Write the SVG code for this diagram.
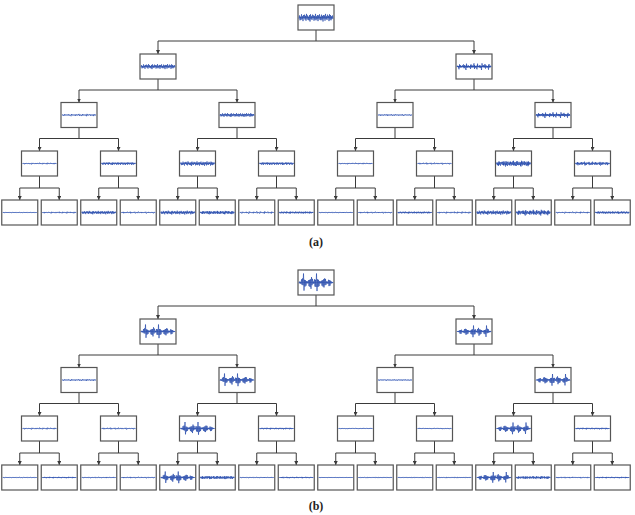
<svg xmlns="http://www.w3.org/2000/svg" xmlns:xlink="http://www.w3.org/1999/xlink" width="635" height="515" viewBox="0 0 635 515">
<style>
.bx{fill:#fff;stroke:#555;stroke-width:1.2}
.cn{fill:none;stroke:#3a3a3a;stroke-width:1}
.br{fill:none;stroke:#3a3a3a;stroke-width:1;marker-start:url(#ah);marker-end:url(#ah)}
.w{fill:none;stroke:#1f44a8;stroke-width:0.65;stroke-linejoin:bevel}
.base{fill:none;stroke:#7f9bd8;stroke-width:0.6}
.lbl{font-family:"Liberation Serif","DejaVu Serif",serif;font-weight:bold;font-size:12px;fill:#222;text-anchor:middle}
</style>
<defs>
<marker id="ah" markerUnits="userSpaceOnUse" viewBox="0 0 6 6" refX="6" refY="3" markerWidth="4" markerHeight="4" orient="auto-start-reverse"><path d="M0 0L6 3L0 6z" fill="#3a3a3a"/></marker>
<g id="nA"><path class="base" vector-effect="non-scaling-stroke" d="M0 0H34"/><path class="w" vector-effect="non-scaling-stroke" d="M0 .3L.5 -.5 1 .7 1.5 -.2 2 .6 2.5 -.8 3 .4 3.5 -.3 4 .9 4.5 -.6 5 .2 5.5 -.7 6 .5 6.5 -.4 7 .8 7.5 -.9 8 .3 8.5 -.5 9 .6 9.5 -.2 10 .7 10.5 -.6 11 1 11.5 -.8 12 .4 12.5 -.3 13 .6 13.5 -.7 14 .2 14.5 -.5 15 .8 15.5 -.4 16 .5 16.5 -.9 17 .7 17.5 -.3 18 .4 18.5 -.6 19 .9 19.5 -.5 20 .3 20.5 -.8 21 .6 21.5 -.2 22 .7 22.5 -.7 23 .5 23.5 -.4 24 1 24.5 -.6 25 .3 25.5 -.5 26 .8 26.5 -.9 27 .4 27.5 -.3 28 .6 28.5 -.7 29 .2 29.5 -.4 30 .9 30.5 -.8 31 .5 31.5 -.6 32 .7 32.5 -.3 33 .4 33.5 -.5 34 .3"/></g>
<g id="nB"><path class="base" vector-effect="non-scaling-stroke" d="M0 0H34"/><path class="w" vector-effect="non-scaling-stroke" d="M0 .1L1 -.15 2 .8 2.5 -.6 3 .1 4 -.15 5 .15 6 -.1 6.5 -.6 7 .5 7.5 -.1 8 .15 9 1 9.5 -.8 10 .1 11 -.15 12 .15 13 -.1 13.5 .7 14 -.6 14.5 .1 15 -.15 16 .15 17 -.9 17.5 .7 18 -.1 19 .15 20 .8 20.5 -.8 21 .1 22 -.15 23 .15 24 -.1 24.5 1 25 -.9 25.5 .1 26 -.15 27 .15 28 -.7 28.5 .6 29 -.1 30 .15 31 -.1 31.5 .9 32 -.7 32.5 .1 33 -.15 34 .1"/></g>
<g id="bu"><path class="base" vector-effect="non-scaling-stroke" d="M0 0H34"/><path class="w" vector-effect="non-scaling-stroke" d="M0 .08L.5 -.1 1 .12 1.5 -.08 2 .15 2.5 -.35 3 .25 3.5 -.45 4 .3 4.5 -1 5 .9 5.5 -.3 6 .45 6.5 -.25 7 .35 7.5 -.15 8 .1 8.5 -.12 9 .1 9.5 -.25 10 .4 10.5 -.3 11 .5 11.5 -.35 12 .7 12.5 -.6 13 .3 13.5 -.4 14 .15 14.5 -.1 15 .12 15.5 -.35 16 .45 16.5 -.3 17 .5 17.5 -1 18 .95 18.5 -.35 19 .5 19.5 -.3 20 .4 20.5 -.15 21 .1 21.5 -.12 22 .1 22.5 -.2 23 .35 23.5 -.25 24 .45 24.5 -.35 25 .55 25.5 -.45 26 .3 26.5 -.4 27 .25 27.5 -.12 28 .1 28.5 -.1 29 .15 29.5 -.3 30 .4 30.5 -.25 31 .35 31.5 -.2 32 .12 32.5 -.1 33 .08 33.5 -.06 34 .05"/></g>
</defs>

<g id="connectors">
<!-- tree a -->
<path class="cn" d="M316 30V41M158 79V90M474 79V90M79 127.5V138.5M237 127.5V138.5M395 127.5V138.5M553 127.5V138.5M39.5 176V188M118.5 176V188M197.5 176V188M276.5 176V188M355.5 176V188M434.5 176V188M513.5 176V188M592.5 176V188"/>
<path class="br" d="M158 54V41H474V54"/>
<path class="br" d="M79 102.5V90H237V102.5"/>
<path class="br" d="M395 102.5V90H553V102.5"/>
<path class="br" d="M39.5 151V138.5H118.5V151"/>
<path class="br" d="M197.5 151V138.5H276.5V151"/>
<path class="br" d="M355.5 151V138.5H434.5V151"/>
<path class="br" d="M513.5 151V138.5H592.5V151"/>
<path class="br" d="M19.75 200V188H59.25V200"/>
<path class="br" d="M98.75 200V188H138.25V200"/>
<path class="br" d="M177.75 200V188H217.25V200"/>
<path class="br" d="M256.75 200V188H296.25V200"/>
<path class="br" d="M335.75 200V188H375.25V200"/>
<path class="br" d="M414.75 200V188H454.25V200"/>
<path class="br" d="M493.75 200V188H533.25V200"/>
<path class="br" d="M572.75 200V188H612.25V200"/>
<!-- tree b -->
<path class="cn" d="M316 295V306M158 344V355M474 344V355M79 392.5V403.5M237 392.5V403.5M395 392.5V403.5M553 392.5V403.5M39.5 441V453M118.5 441V453M197.5 441V453M276.5 441V453M355.5 441V453M434.5 441V453M513.5 441V453M592.5 441V453"/>
<path class="br" d="M158 319V306H474V319"/>
<path class="br" d="M79 367.5V355H237V367.5"/>
<path class="br" d="M395 367.5V355H553V367.5"/>
<path class="br" d="M39.5 416V403.5H118.5V416"/>
<path class="br" d="M197.5 416V403.5H276.5V416"/>
<path class="br" d="M355.5 416V403.5H434.5V416"/>
<path class="br" d="M513.5 416V403.5H592.5V416"/>
<path class="br" d="M19.75 465V453H59.25V465"/>
<path class="br" d="M98.75 465V453H138.25V465"/>
<path class="br" d="M177.75 465V453H217.25V465"/>
<path class="br" d="M256.75 465V453H296.25V465"/>
<path class="br" d="M335.75 465V453H375.25V465"/>
<path class="br" d="M414.75 465V453H454.25V465"/>
<path class="br" d="M493.75 465V453H533.25V465"/>
<path class="br" d="M572.75 465V453H612.25V465"/>
</g>

<!-- ===== Tree (a) ===== -->
<g id="a0"><rect class="bx" x="298" y="5" width="36" height="25"/><use href="#nA" transform="translate(299 17.5) scale(1 4)"/></g>
<g id="a1-0"><rect class="bx" x="140" y="54" width="36" height="25"/><use href="#nA" transform="translate(141 66.5) scale(1 2.6)"/></g>
<g id="a1-1"><rect class="bx" x="456" y="54" width="36" height="25"/><use href="#nB" transform="translate(457 66.5) scale(1 3.5)"/><use href="#nA" transform="translate(491 66.5) scale(-1 1.5)"/></g>
<g id="a2-0"><rect class="bx" x="61" y="102.5" width="36" height="25"/><use href="#nB" transform="translate(62 115) scale(1 1.2)"/></g>
<g id="a2-1"><rect class="bx" x="219" y="102.5" width="36" height="25"/><use href="#nA" transform="translate(220 115) scale(1 2)"/></g>
<g id="a2-2"><rect class="bx" x="377" y="102.5" width="36" height="25"/><use href="#nB" transform="translate(412 115) scale(-1 0.8)"/></g>
<g id="a2-3"><rect class="bx" x="535" y="102.5" width="36" height="25"/><use href="#nB" transform="translate(536 115) scale(1 3)"/><use href="#nA" transform="translate(570 115) scale(-1 1.3)"/></g>
<g id="a3-0"><rect class="bx" x="21.5" y="151" width="36" height="25"/><use href="#nB" transform="translate(22.5 163.5) scale(1 0.8)"/></g>
<g id="a3-1"><rect class="bx" x="100.5" y="151" width="36" height="25"/><use href="#nA" transform="translate(101.5 163.5) scale(1 1.5)"/></g>
<g id="a3-2"><rect class="bx" x="179.5" y="151" width="36" height="25"/><use href="#nA" transform="translate(180.5 163.5) scale(1 2.3)"/></g>
<g id="a3-3"><rect class="bx" x="258.5" y="151" width="36" height="25"/><use href="#nA" transform="translate(293.5 163.5) scale(-1 1.5)"/></g>
<g id="a3-4"><rect class="bx" x="337.5" y="151" width="36" height="25"/><use href="#nB" transform="translate(338.5 163.5) scale(1 0.7)"/></g>
<g id="a3-5"><rect class="bx" x="416.5" y="151" width="36" height="25"/><use href="#nB" transform="translate(451.5 163.5) scale(-1 0.9)"/></g>
<g id="a3-6"><rect class="bx" x="495.5" y="151" width="36" height="25"/><use href="#nA" transform="translate(496.5 163.5) scale(1 2.4)"/><use href="#nB" transform="translate(496.5 163.5) scale(1 3)"/></g>
<g id="a3-7"><rect class="bx" x="574.5" y="151" width="36" height="25"/><use href="#nA" transform="translate(575.5 163.5) scale(1 1.3)"/><use href="#nB" transform="translate(609.5 163.5) scale(-1 2)"/></g>
<g id="a4-0"><rect class="bx" x="1.75" y="200" width="36" height="25"/><use href="#nB" transform="translate(2.75 212.5) scale(1 0.2)"/></g>
<g id="a4-1"><rect class="bx" x="41.25" y="200" width="36" height="25"/><use href="#nB" transform="translate(42.25 212.5) scale(1 0.9)"/></g>
<g id="a4-2"><rect class="bx" x="80.75" y="200" width="36" height="25"/><use href="#nA" transform="translate(81.75 212.5) scale(1 1.8)"/></g>
<g id="a4-3"><rect class="bx" x="120.25" y="200" width="36" height="25"/><use href="#nB" transform="translate(155.25 212.5) scale(-1 0.9)"/></g>
<g id="a4-4"><rect class="bx" x="159.75" y="200" width="36" height="25"/><use href="#nA" transform="translate(160.75 212.5) scale(1 2)"/></g>
<g id="a4-5"><rect class="bx" x="199.25" y="200" width="36" height="25"/><use href="#nA" transform="translate(234.25 212.5) scale(-1 1.5)"/><use href="#nB" transform="translate(200.25 212.5) scale(1 1.8)"/></g>
<g id="a4-6"><rect class="bx" x="238.75" y="200" width="36" height="25"/><use href="#nB" transform="translate(239.75 212.5) scale(1 1.2)"/></g>
<g id="a4-7"><rect class="bx" x="278.25" y="200" width="36" height="25"/><use href="#nA" transform="translate(279.25 212.5) scale(1 1.2)"/></g>
<g id="a4-8"><rect class="bx" x="317.75" y="200" width="36" height="25"/><use href="#nB" transform="translate(318.75 212.5) scale(1 0.5)"/></g>
<g id="a4-9"><rect class="bx" x="357.25" y="200" width="36" height="25"/><use href="#nB" transform="translate(392.25 212.5) scale(-1 0.8)"/></g>
<g id="a4-10"><rect class="bx" x="396.75" y="200" width="36" height="25"/><use href="#nA" transform="translate(397.75 212.5) scale(1 1.1)"/></g>
<g id="a4-11"><rect class="bx" x="436.25" y="200" width="36" height="25"/><use href="#nB" transform="translate(437.25 212.5) scale(1 1)"/></g>
<g id="a4-12"><rect class="bx" x="475.75" y="200" width="36" height="25"/><use href="#nA" transform="translate(476.75 212.5) scale(1 2.2)"/></g>
<g id="a4-13"><rect class="bx" x="515.25" y="200" width="36" height="25"/><use href="#nA" transform="translate(550.25 212.5) scale(-1 2)"/><use href="#nB" transform="translate(516.25 212.5) scale(1 3)"/></g>
<g id="a4-14"><rect class="bx" x="554.75" y="200" width="36" height="25"/><use href="#nB" transform="translate(555.75 212.5) scale(1 0.9)"/></g>
<g id="a4-15"><rect class="bx" x="594.25" y="200" width="36" height="25"/><use href="#nA" transform="translate(629.25 212.5) scale(-1 1.4)"/></g>
<text class="lbl" x="316" y="246">(a)</text>

<!-- ===== Tree (b) ===== -->
<g id="b0"><rect class="bx" x="298" y="270" width="36" height="25"/><use href="#bu" transform="translate(299 282.5) scale(1 9)"/></g>
<g id="b1-0"><rect class="bx" x="140" y="319" width="36" height="25"/><use href="#bu" transform="translate(141 331.5) scale(1 7)"/></g>
<g id="b1-1"><rect class="bx" x="456" y="319" width="36" height="25"/><use href="#bu" transform="translate(491 331.5) scale(-1 6)"/></g>
<g id="b2-0"><rect class="bx" x="61" y="367.5" width="36" height="25"/><use href="#nB" transform="translate(62 380) scale(1 0.9)"/></g>
<g id="b2-1"><rect class="bx" x="219" y="367.5" width="36" height="25"/><use href="#bu" transform="translate(220 380) scale(1 6.5)"/></g>
<g id="b2-2"><rect class="bx" x="377" y="367.5" width="36" height="25"/><use href="#nB" transform="translate(378 380) scale(1 0.5)"/></g>
<g id="b2-3"><rect class="bx" x="535" y="367.5" width="36" height="25"/><use href="#bu" transform="translate(570 380) scale(-1 6)"/></g>
<g id="b3-0"><rect class="bx" x="21.5" y="416" width="36" height="25"/><use href="#nB" transform="translate(22.5 428.5) scale(1 0.9)"/></g>
<g id="b3-1"><rect class="bx" x="100.5" y="416" width="36" height="25"/><use href="#nB" transform="translate(135.5 428.5) scale(-1 0.9)"/></g>
<g id="b3-2"><rect class="bx" x="179.5" y="416" width="36" height="25"/><use href="#bu" transform="translate(180.5 428.5) scale(1 6.5)"/></g>
<g id="b3-3"><rect class="bx" x="258.5" y="416" width="36" height="25"/><use href="#nA" transform="translate(259.5 428.5) scale(1 0.9)"/></g>
<g id="b3-4"><rect class="bx" x="337.5" y="416" width="36" height="25"/><use href="#nB" transform="translate(338.5 428.5) scale(1 0.4)"/></g>
<g id="b3-5"><rect class="bx" x="416.5" y="416" width="36" height="25"/><use href="#nB" transform="translate(451.5 428.5) scale(-1 0.5)"/></g>
<g id="b3-6"><rect class="bx" x="495.5" y="416" width="36" height="25"/><use href="#bu" transform="translate(530.5 428.5) scale(-1 6)"/></g>
<g id="b3-7"><rect class="bx" x="574.5" y="416" width="36" height="25"/><use href="#nA" transform="translate(575.5 428.5) scale(1 0.9)"/></g>
<g id="b4-0"><rect class="bx" x="1.75" y="465" width="36" height="25"/><use href="#nB" transform="translate(2.75 477.5) scale(1 0.3)"/></g>
<g id="b4-1"><rect class="bx" x="41.25" y="465" width="36" height="25"/><use href="#nA" transform="translate(42.25 477.5) scale(1 0.8)"/></g>
<g id="b4-2"><rect class="bx" x="80.75" y="465" width="36" height="25"/><use href="#nB" transform="translate(81.75 477.5) scale(1 0.6)"/></g>
<g id="b4-3"><rect class="bx" x="120.25" y="465" width="36" height="25"/><use href="#nB" transform="translate(155.25 477.5) scale(-1 0.7)"/></g>
<g id="b4-4"><rect class="bx" x="159.75" y="465" width="36" height="25"/><use href="#bu" transform="translate(160.75 477.5) scale(1 6)"/></g>
<g id="b4-5"><rect class="bx" x="199.25" y="465" width="36" height="25"/><use href="#nA" transform="translate(200.25 477.5) scale(1 1.5)"/><use href="#nB" transform="translate(234.25 477.5) scale(-1 1.6)"/></g>
<g id="b4-6"><rect class="bx" x="238.75" y="465" width="36" height="25"/><use href="#nB" transform="translate(239.75 477.5) scale(1 0.5)"/></g>
<g id="b4-7"><rect class="bx" x="278.25" y="465" width="36" height="25"/><use href="#nA" transform="translate(313.25 477.5) scale(-1 0.8)"/></g>
<g id="b4-8"><rect class="bx" x="317.75" y="465" width="36" height="25"/><use href="#nB" transform="translate(318.75 477.5) scale(1 0.1)"/></g>
<g id="b4-9"><rect class="bx" x="357.25" y="465" width="36" height="25"/><use href="#nB" transform="translate(358.25 477.5) scale(1 0.4)"/></g>
<g id="b4-10"><rect class="bx" x="396.75" y="465" width="36" height="25"/><use href="#nB" transform="translate(431.75 477.5) scale(-1 0.4)"/></g>
<g id="b4-11"><rect class="bx" x="436.25" y="465" width="36" height="25"/><use href="#nB" transform="translate(437.25 477.5) scale(1 0.5)"/></g>
<g id="b4-12"><rect class="bx" x="475.75" y="465" width="36" height="25"/><use href="#bu" transform="translate(510.75 477.5) scale(-1 5.5)"/></g>
<g id="b4-13"><rect class="bx" x="515.25" y="465" width="36" height="25"/><use href="#nA" transform="translate(516.25 477.5) scale(1 1.2)"/><use href="#nB" transform="translate(516.25 477.5) scale(1 1.5)"/></g>
<g id="b4-14"><rect class="bx" x="554.75" y="465" width="36" height="25"/><use href="#nB" transform="translate(589.75 477.5) scale(-1 0.7)"/></g>
<g id="b4-15"><rect class="bx" x="594.25" y="465" width="36" height="25"/><use href="#nA" transform="translate(595.25 477.5) scale(1 0.8)"/></g>
<text class="lbl" x="316" y="510">(b)</text>
</svg>
